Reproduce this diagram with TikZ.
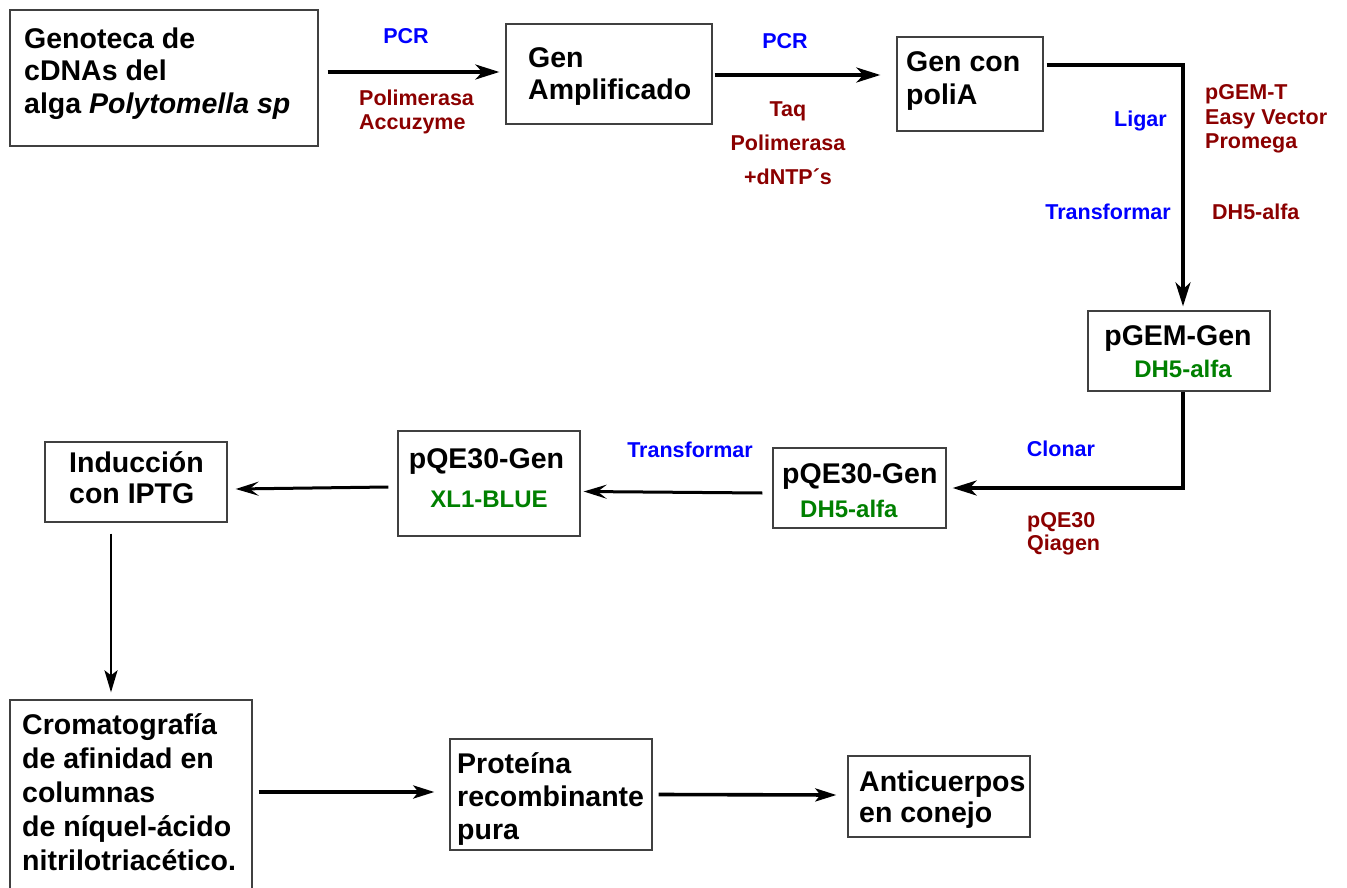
\documentclass[tikz,border=0pt]{standalone}
\usepackage{fontspec}
\setmainfont{Liberation Sans}
\usetikzlibrary{arrows.meta}
\hyphenpenalty=10000
\exhyphenpenalty=10000
\definecolor{dred}{RGB}{139,0,0}
\definecolor{dgreen}{RGB}{0,128,0}
\definecolor{lblue}{RGB}{0,0,255}
\begin{document}
\begin{tikzpicture}[x=1pt,y=-1pt,
  box/.style={draw=black!75, line width=1.3pt, inner sep=0pt, rectangle},
  bt/.style={font=\fontsize{28.5}{33}\selectfont\bfseries, inner sep=0pt, align=left},
  gl/.style={font=\fontsize{24}{28}\selectfont\bfseries, inner sep=0pt, text=dgreen},
  lb/.style={font=\fontsize{21.5}{24}\selectfont\bfseries, inner sep=0pt, text=lblue},
  lr/.style={font=\fontsize{21.5}{24}\selectfont\bfseries, inner sep=0pt, text=dred, align=left},
  arrT/.style={line width=3.6pt, -{Stealth[length=24pt,width=15pt,inset=7pt]}},
  arrB/.style={line width=3pt, -{Stealth[length=23pt,width=14pt,inset=9pt]}},
  arrV/.style={line width=2.5pt, -{Stealth[length=22pt,width=13pt,inset=5pt]}},
  arrL/.style={line width=3.6pt, -{Stealth[length=21pt,width=13pt,inset=5pt]}}
]
\useasboundingbox (0,0) rectangle (1347,888);

% boxes
\node[box, minimum width=308pt, minimum height=136pt] (gen) at (164,78) {};
\node[box, minimum width=206pt, minimum height=100pt] (amp) at (609,74) {};
\node[box, minimum width=146pt, minimum height=94pt] (poly) at (970,84) {};
\node[box, minimum width=182pt, minimum height=80pt] (pgem) at (1179,351) {};
\node[box, minimum width=173pt, minimum height=80pt] (pqd) at (859.5,488) {};
\node[box, minimum width=182pt, minimum height=105pt] (pqx) at (489,483.5) {};
\node[box, minimum width=182pt, minimum height=80pt] (ind) at (136,482) {};
\node[box, minimum width=242pt, minimum height=194pt] (cro) at (131,797) {};
\node[box, minimum width=202pt, minimum height=111pt] (pro) at (551,794.5) {};
\node[box, minimum width=182pt, minimum height=81pt] (ant) at (939,796.5) {};

% box texts (base anchor = baseline of the last line)
\node[bt, anchor=base west] (gen-t) at (24,114) {Genoteca de\\cDNAs del\\alga \textit{Polytomella sp}};
\node[bt, anchor=base west, font=\fontsize{28.5}{32}\selectfont\bfseries] (amp-t) at (528,100) {Gen\\Amplificado};
\node[bt, anchor=base west] (poly-t) at (906,105) {Gen con\\poliA};
\node[bt, anchor=base] (pgem-t) at (1178,345) {pGEM-Gen};
\node[gl, anchor=base] (pgem-s) at (1183,377) {DH5-alfa};
\node[bt, anchor=base west] (pqd-t) at (782,483) {pQE30-Gen};
\node[gl, anchor=base west] (pqd-s) at (800,517) {DH5-alfa};
\node[bt, anchor=base] (pqx-t) at (486.5,468) {pQE30-Gen};
\node[gl, anchor=base] (pqx-s) at (489,507) {XL1-BLUE};
\node[bt, anchor=base west, font=\fontsize{28.5}{31.5}\selectfont\bfseries] (ind-t) at (69,503.5) {Inducción\\con IPTG};
\node[bt, anchor=base west, font=\fontsize{28.5}{34}\selectfont\bfseries] (cro-t) at (22,870) {Cromatografía\\de afinidad en\\columnas\\de níquel-ácido\\nitrilotriacético.};
\node[bt, anchor=base west] (pro-t) at (457,839) {Proteína\\recombinante\\pura};
\node[bt, anchor=base west, font=\fontsize{28.5}{31.5}\selectfont\bfseries] (ant-t) at (859,822.5) {Anticuerpos\\en conejo};

% labels
\node[lb, anchor=base] (pcr1) at (406,44) {PCR};
\node[lr, anchor=base west] (acc) at (359,130) {Polimerasa\\Accuzyme};
\node[lb, anchor=base] (pcr2) at (785,49) {PCR};
\node[lr, anchor=base, align=center, font=\fontsize{21.5}{34}\selectfont\bfseries] (taq) at (788,185) {Taq\\Polimerasa\\+dNTP´s};
\node[lb, anchor=base east] (lig) at (1167,127) {Ligar};
\node[lb, anchor=base east] (tr1) at (1171,219) {Transformar};
\node[lr, anchor=base west, font=\fontsize{21.5}{24.5}\selectfont\bfseries] (pgt) at (1205,149) {pGEM-T\\Easy Vector\\Promega};
\node[lr, anchor=base west] (dh5r) at (1212,219) {DH5-alfa};
\node[lb, anchor=base] (clo) at (1061,456.5) {Clonar};
\node[lr, anchor=base west, font=\fontsize{21.5}{23.5}\selectfont\bfseries] (qia) at (1027,550.5) {pQE30\\Qiagen};
\node[lb, anchor=base] (tr2) at (690,457) {Transformar};

% connectors
\draw[arrT] ([xshift=9pt,yshift=6pt]gen.east) -- ([xshift=-6pt,yshift=2pt]amp.west);
\draw[arrT] ([xshift=2pt,yshift=-1pt]amp.east) -- ([xshift=-16pt,yshift=9pt]poly.west);
\draw[arrT] ([xshift=3pt,yshift=19pt]poly.east) -| ([xshift=4pt,yshift=4pt]pgem.north);
\draw[arrT] ([xshift=4pt]pgem.south) |- ([xshift=6pt]pqd.east);
\draw[arrB] ([xshift=-10pt,yshift=-5pt]pqd.west) -- ([xshift=3pt,yshift=-8pt]pqx.east);
\draw[arrB] ([xshift=-9pt,yshift=-3.5pt]pqx.west) -- ([xshift=8pt,yshift=-7pt]ind.east);
\draw[arrV] ([xshift=-25pt,yshift=-11pt]ind.south) -- ([xshift=-20pt,yshift=7pt]cro.north);
\draw[arrL] ([xshift=6pt,yshift=5pt]cro.east) -- ([xshift=-15pt,yshift=2.5pt]pro.west);
\draw[arrL] ([xshift=6pt]pro.east) -- ([xshift=-11pt,yshift=1.5pt]ant.west);
\end{tikzpicture}
\end{document}
